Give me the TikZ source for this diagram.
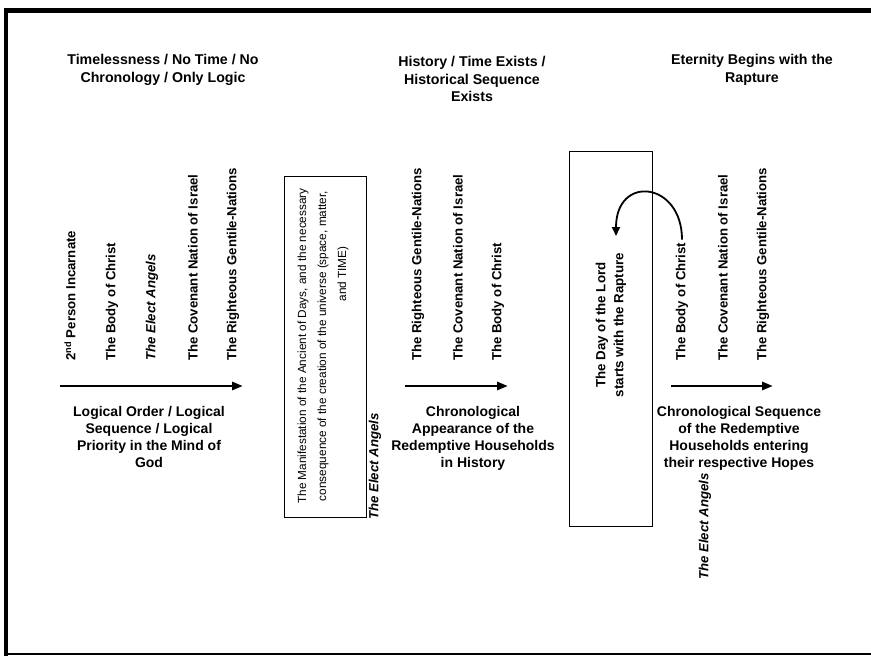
\documentclass[tikz,border=0pt]{standalone}
\usepackage{fontspec}
\setmainfont{Liberation Sans}
\usetikzlibrary{arrows.meta}

\tikzset{
    heading/.style={font=\bfseries\fontsize{14.2}{17.5}\selectfont, align=center, inner sep=0},
    vlabel/.style={rotate=90, anchor=west, font=\bfseries\fontsize{13.2}{15}\selectfont, inner sep=0},
    angels/.style={vlabel, font=\bfseries\itshape\fontsize{13.2}{15}\selectfont},
    caption/.style={font=\bfseries\fontsize{14}{17}\selectfont, align=center, anchor=north, inner sep=0},
    timeline/.style={line width=2.8pt, -{Triangle[length=11pt,width=8pt]}},
    framebox/.style={draw, line width=0.8pt, rotate=90, inner sep=0},
    boxtext/.style={rotate=90, align=center, inner sep=0}
}

\begin{document}
\begin{tikzpicture}[x=1pt,y=-1pt]
        \useasboundingbox (0,0) rectangle (871,656);
        \draw[line width=5pt] (4,10.5) -- (871,10.5);
        \draw[line width=4pt] (6,8) -- (6,656);
        \draw[line width=1.2pt] (4,654) -- (871,654);

        \node[heading] (head1) at (163,70) {Timelessness / No Time / No\\Chronology / Only Logic};
        \node[heading] (head2) at (472,79) {History / Time Exists /\\Historical Sequence\\Exists};
        \node[heading] (head3) at (752,70) {Eternity Begins with the\\Rapture};

        \node[vlabel] (person) at (70,361) {2\textsuperscript{nd} Person Incarnate};
        \node[vlabel] (body1) at (112,361) {The Body of Christ};
        \node[angels] (elect1) at (152,361) {The Elect Angels};
        \node[vlabel] (israel1) at (193,361) {The Covenant Nation of Israel};
        \node[vlabel] (gentile1) at (233,361) {The Righteous Gentile-Nations};

        \node[vlabel] (gentile2) at (418,361) {The Righteous Gentile-Nations};
        \node[vlabel] (israel2) at (458,361) {The Covenant Nation of Israel};
        \node[vlabel] (body2) at (498,361) {The Body of Christ};

        \node[vlabel] (body3) at (682,361) {The Body of Christ};
        \node[vlabel] (israel3) at (723,361) {The Covenant Nation of Israel};
        \node[vlabel] (gentile3) at (763,361) {The Righteous Gentile-Nations};

        \coordinate (logicstart) at (60,386);
        \coordinate (logicend) at (243,386);
        \coordinate (histstart) at (405,386);
        \coordinate (histend) at (508,386);
        \coordinate (eternstart) at (671,386);
        \coordinate (eternend) at (773,386);
        \draw[timeline] (logicstart) -- (logicend);
        \draw[timeline] (histstart) -- (histend);
        \draw[timeline] (eternstart) -- (eternend);

        \node[caption] (cap1) at (149,406) {Logical Order / Logical\\Sequence / Logical\\Priority in the Mind of\\God};
        \node[caption] (cap2) at (473,406) {Chronological\\Appearance of the\\Redemptive Households\\in History};
        \node[caption] (cap3) at (739,406) {Chronological Sequence\\of the Redemptive\\Households entering\\their respective Hopes};

        \node[framebox, minimum width=341pt, minimum height=82pt] (box1) at (325,346.5) {};
        \node[boxtext, font=\fontsize{11.8}{20}\selectfont] (manif) at (323,346) {The Manifestation of the Ancient of Days, and the necessary\\consequence of the creation of the universe (space, matter,\\\hspace*{144pt}and TIME)};
        \node[angels] (elect2) at (375,520) {The Elect Angels};

        \node[framebox, minimum width=375pt, minimum height=83pt] (box2) at (610.5,338.5) {};
        \node[boxtext, font=\bfseries\fontsize{13.3}{18}\selectfont] (dayof) at (611,325) {The Day of the Lord\\starts with the Rapture};

        \coordinate (rapture) at (616,236);
        \draw[line width=1.8pt, -{Triangle[length=9pt,width=8pt]}] ([yshift=3pt]body3.east) .. controls +(0,-58) and +(0,-62) .. (rapture);

        \node[angels] (elect3) at (705,580) {The Elect Angels};
\end{tikzpicture}
\end{document}
